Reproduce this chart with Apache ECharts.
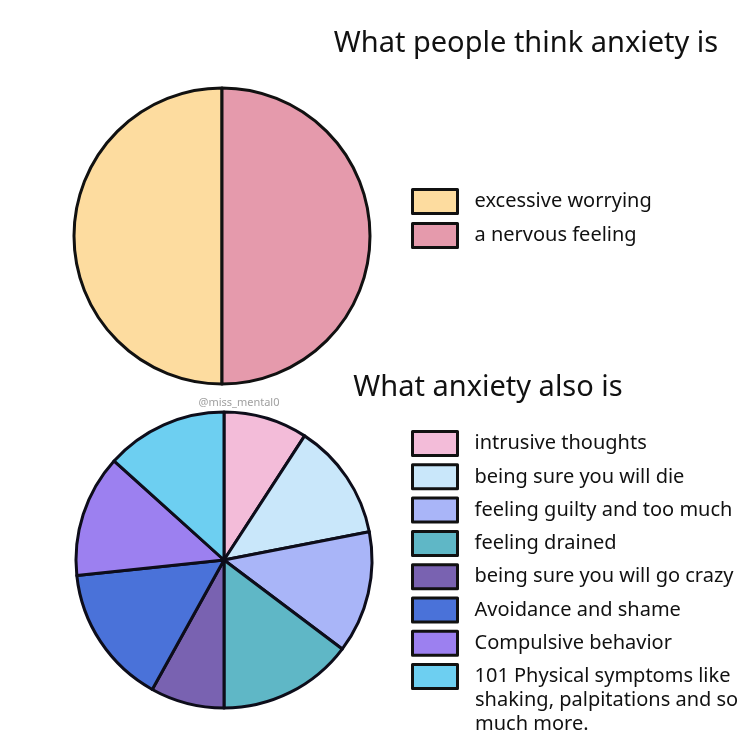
<!DOCTYPE html>
<html>
<head>
<meta charset="utf-8">
<script src="https://cdn.jsdelivr.net/npm/echarts@6/dist/echarts.min.js"></script>
<style>html,body{margin:0;padding:0;background:#fff;}#c{width:750px;height:754px;}</style>
</head>
<body>
<div id="c"></div>
<script>
// Data
var thinkNames = ['excessive worrying', 'a nervous feeling'];
var thinkValues = [50, 50];
var thinkColors = ['#fddc9f', '#e59aac'];

var alsoNames = [
  'intrusive thoughts',
  'being sure you will die',
  'feeling guilty and too much',
  'feeling drained',
  'being sure you will go crazy',
  'Avoidance and shame',
  'Compulsive behavior',
  '101 Physical symptoms like shaking, palpitations and so much more.'
];
var alsoValues = [33, 46, 48, 53, 29, 55, 48, 48];
var alsoColors = ['#f3bcd9', '#c9e7fa', '#a9b5f8', '#5fb7c6', '#7962b1', '#4a72d9', '#9c80f0', '#6dcff1'];

var FONT = 'Noto Sans';
var chart = echarts.init(document.getElementById('c'), null, {renderer: 'canvas'});

function mk(names, values, colors) {
  return names.map(function (n, i) {
    return {name: n, value: values[i], itemStyle: {color: colors[i]}};
  });
}

var legendText = {color: '#111', fontFamily: FONT, fontSize: 20, lineHeight: 20, padding: [0, 0, 0, 12]};

chart.setOption({
  backgroundColor: '#fff',
  animation: false,
  title: [
    {text: 'What people think anxiety is', left: 521, top: 24, textAlign: 'center',
     textStyle: {fontFamily: FONT, fontSize: 29, fontWeight: 'normal', color: '#111'}},
    {text: 'What anxiety also is', left: 483, top: 368, textAlign: 'center',
     textStyle: {fontFamily: FONT, fontSize: 29, fontWeight: 'normal', color: '#111'}},
    {text: '@miss_mental0', left: 234, top: 392, textAlign: 'center',
     textStyle: {fontFamily: FONT, fontSize: 11, fontWeight: 'normal', color: '#a0a0a0'}}
  ],
  legend: [
    {
      data: thinkNames, orient: 'vertical', left: 411, top: 188, padding: 0,
      itemWidth: 45, itemHeight: 24, itemGap: 7, icon: 'rect',
      itemStyle: {borderColor: '#111', borderWidth: 3},
      textStyle: legendText, selectedMode: false
    },
    {
      data: alsoNames, orient: 'vertical', left: 411, top: 430, padding: 0,
      itemWidth: 45, itemHeight: 24, itemGap: 6.3, icon: 'rect',
      itemStyle: {borderColor: '#111', borderWidth: 3},
      textStyle: legendText, selectedMode: false,
      formatter: function (n) { return n.indexOf('101') === 0 ? '101 Physical symptoms like' : n; }
    }
  ],
  graphic: [
    {type: 'text', left: 475, top: 688,
     style: {text: 'shaking, palpitations and so\nmuch more.', fill: '#111', font: '20px "Noto Sans"', lineHeight: 24}}
  ],
  series: [
    {
      type: 'pie', center: [222, 236], radius: 148, startAngle: 270, clockwise: true,
      label: {show: false}, labelLine: {show: false}, silent: true,
      itemStyle: {borderColor: '#111', borderWidth: 3},
      data: mk(thinkNames, thinkValues, thinkColors)
    },
    {
      type: 'pie', center: [224, 560], radius: 148, startAngle: 90, clockwise: true,
      label: {show: false}, labelLine: {show: false}, silent: true,
      itemStyle: {borderColor: '#0d0d1a', borderWidth: 3},
      data: mk(alsoNames, alsoValues, alsoColors)
    }
  ]
});
</script>
</body>
</html>
